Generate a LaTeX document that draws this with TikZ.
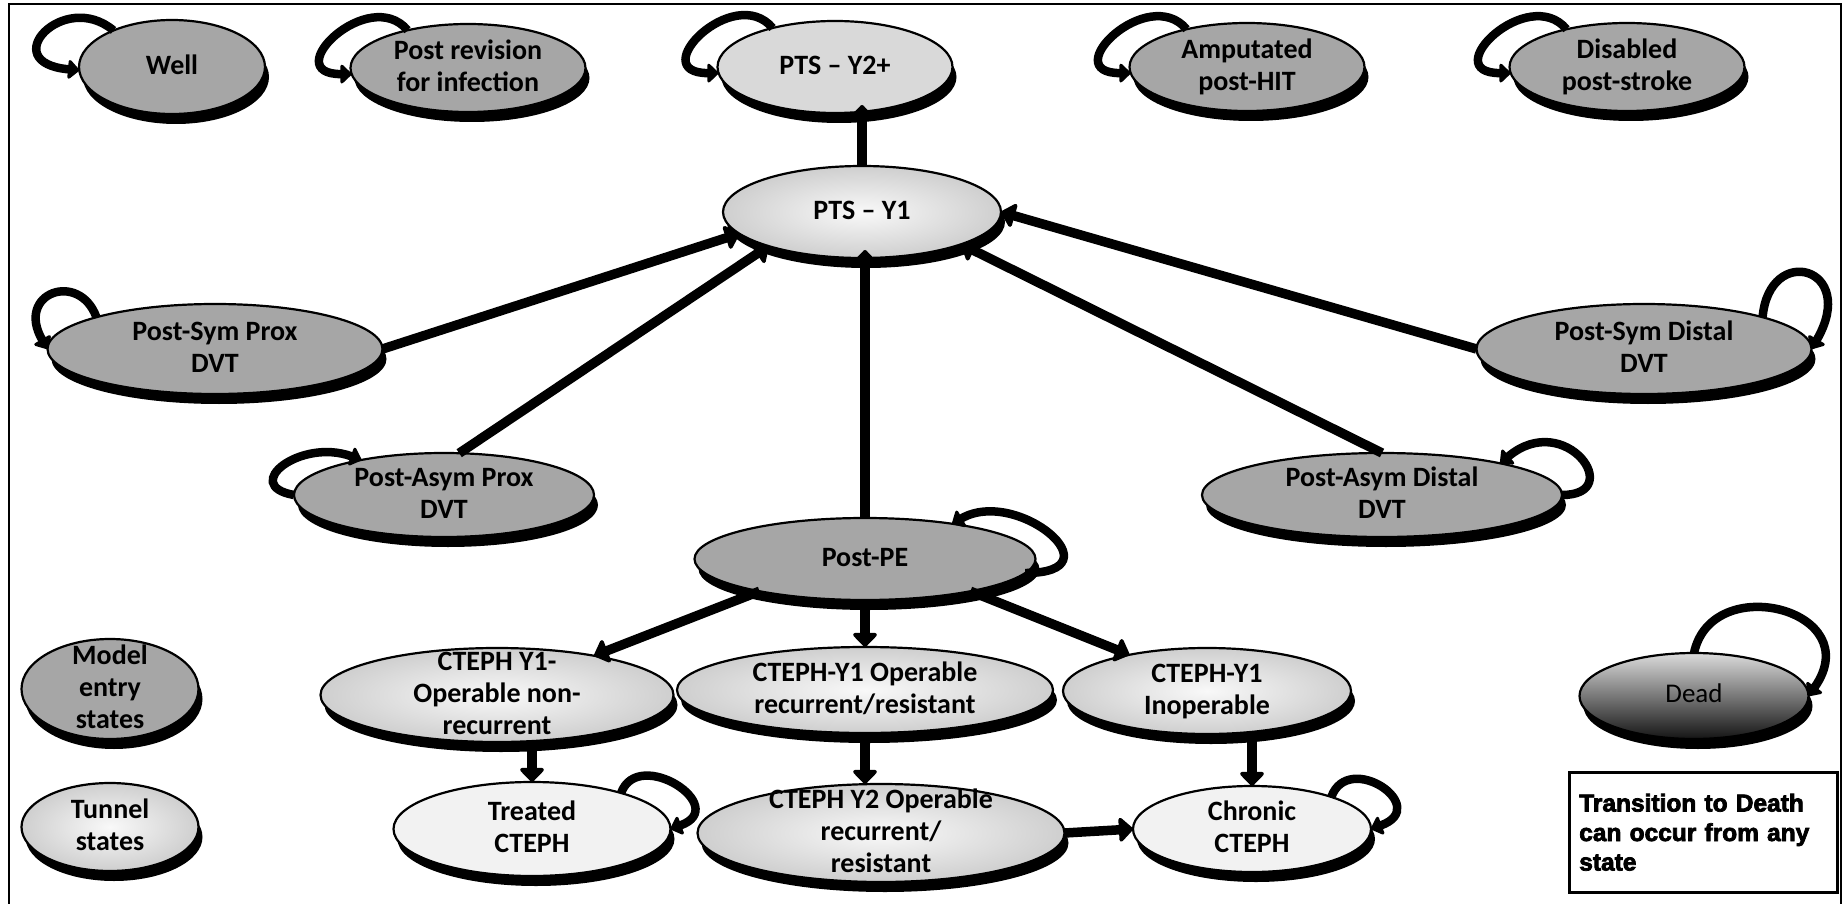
\documentclass[tikz,border=0pt]{standalone}
\usepackage{fontspec}
\setmainfont{Carlito}
\newfontfamily\notefont{Liberation Sans Bold}[FakeBold=3]
\usetikzlibrary{positioning}
\usetikzlibrary{shapes.geometric}
\usetikzlibrary{shadows}
\usetikzlibrary{arrows.meta}
\definecolor{entrygray}{RGB}{166,166,166}
\definecolor{palegray}{RGB}{217,217,217}
\definecolor{whitish}{RGB}{242,242,242}
% text of a state, kept out of the ellipse size
\newcommand{\st}[1]{\makebox[0pt]{\smash{\raisebox{-.25em}{\begin{tabular}{@{}c@{}}#1\end{tabular}}}}}
\tikzset{
    state/.style={ellipse, draw=black, line width=2.2pt, inner sep=0pt, outer sep=0pt,
        font=\fontsize{28}{32}\selectfont\bfseries,
        drop shadow={shadow xshift=4pt, shadow yshift=-10pt, opacity=1, fill=black}},
    dims/.style 2 args={minimum width=#1pt, minimum height=#2pt},
    entrystate/.style={state, fill=entrygray},
    tunnelstate/.style={state, inner color=gray!5, outer color=gray!38},
    palestate/.style={state, fill=whitish},
    flow/.style={line width=9.5pt, -{Triangle[width=28pt, length=15pt, round]}},
    selfloop/.style={line width=8.5pt, -{Triangle[width=22pt, length=12pt, round]}},
    notebox/.style={draw, line width=2.5pt, anchor=north west, align=left,
        text width=248pt, inner xsep=10pt, minimum height=120pt,
        font=\notefont\fontsize{24.5}{29.5}\selectfont},
}
\begin{document}
\begin{tikzpicture}[x=1pt, y=1pt]
    \useasboundingbox (0,0) rectangle (1845,-904);
    \draw[line width=2.5pt] (9,-904) -- (9,-4) -- (1841,-4) -- (1841,-904);

    % top row
    \node[entrystate, dims={186}{94}] (well) at (172,-67) {\st{Well}};
    \node[entrystate, dims={235}{88}] (postrev) at (468,-68) {\st{Post revision\\for infection}};
    \node[state, fill=palegray, dims={235}{92}] (ptsy2) at (835,-67) {\st{PTS -- Y2+}};
    \node[entrystate, dims={235}{88}] (amput) at (1247,-67) {\st{Amputated\\post-HIT}};
    \node[entrystate, dims={235}{88}] (disabled) at (1627,-67) {\st{Disabled\\post-stroke}};

    % PTS and DVT states
    \node[tunnelstate, dims={278}{92}] (ptsy1) at (862,-212) {\st{PTS -- Y1}};
    \node[entrystate, dims={335}{90}] (symprox) at (215,-349) {\st{Post-Sym Prox\\DVT}};
    \node[entrystate, dims={335}{90}] (symdist) at (1644,-349) {\st{Post-Sym Distal\\DVT}};
    \node[entrystate, dims={300}{84}] (asymprox) at (444,-495) {\st{Post-Asym Prox\\DVT}};
    \node[entrystate, dims={360}{84}] (asymdist) at (1382,-495) {\st{Post-Asym Distal\\DVT}};
    \node[entrystate, dims={341}{82}] (postpe) at (865,-559) {\st{Post-PE}};

    % CTEPH states
    \node[tunnelstate, dims={353}{94}] (ctnonrec) at (497,-695) {\st{CTEPH Y1-\\Operable non-\\recurrent}};
    \node[tunnelstate, dims={376}{86}] (ctrec) at (865,-690) {\st{CTEPH-Y1 Operable\\recurrent/resistant}};
    \node[tunnelstate, dims={288}{86}] (ctinop) at (1207,-691) {\st{CTEPH-Y1\\Inoperable}};
    \node[palestate, dims={277}{94}] (treated) at (532,-829) {\st{Treated\\CTEPH}};
    \node[tunnelstate, dims={367}{98}] (ctytwo) at (881,-833) {\st{CTEPH Y2 Operable\\recurrent/\\resistant}};
    \node[palestate, dims={238}{86}] (chronic) at (1252,-829) {\st{Chronic\\CTEPH}};

    % legend and death
    \node[entrystate, dims={177}{100}] (entry) at (110,-689) {\st{Model\\entry\\states}};
    \node[tunnelstate, dims={177}{88}] (tunnel) at (110,-827) {\st{Tunnel\\states}};
    \node[state, top color=gray!28, bottom color=black!92, dims={229}{86},
          font=\fontsize{27}{32}\selectfont, text=black] (dead) at (1694,-696) {\st{Dead}};
    \node[notebox] (note) at (1568,-771) {Transition to Death\\can occur from any\\state};

    % self loops
    \draw[selfloop] (well.148) .. controls +(140:65) and +(175:85) .. (well.182);
    \draw[selfloop] (postrev.148) .. controls +(130:60) and +(180:75) .. (postrev.183);
    \draw[selfloop] (ptsy2.148) .. controls +(130:60) and +(180:75) .. (ptsy2.183);
    \draw[selfloop] (amput.148) .. controls +(130:60) and +(180:75) .. (amput.183);
    \draw[selfloop] (disabled.148) .. controls +(130:60) and +(180:75) .. (disabled.183);
    \draw[selfloop] (symprox.165) .. controls +(110:50) and +(120:65) .. (symprox.west);
    \draw[selfloop] (asymprox.west) .. controls +(170:55) and +(160:65) .. (asymprox.157);
    \draw[selfloop] (symdist.15) .. controls +(85:75) and +(60:95) .. (symdist.east);
    \draw[selfloop] (asymdist.east) .. controls +(0:65) and +(40:85) .. (asymdist.15);
    \draw[selfloop] (postpe.355) .. controls +(0:95) and +(30:75) .. (postpe.22);
    \draw[selfloop] (treated.22) .. controls +(70:50) and +(20:65) .. (treated.east);
    \draw[selfloop] (chronic.22) .. controls +(70:50) and +(20:65) .. (chronic.east);
    \draw[selfloop] (dead.north) .. controls +(78:85) and +(55:105) .. (dead.east);

    % transitions
    \draw[flow, shorten >=-8pt] (ptsy1.north) -- (ptsy1.north |- ptsy2.south);
    \draw[flow, shorten >=-8pt] (postpe.north) -- (postpe.north |- ptsy1.south);
    \draw[flow] (symprox.east) -- (ptsy1.190);
    \draw[flow] (asymprox.70) -- (ptsy1.200);
    \draw[flow] (symdist.west) -- (ptsy1.east);
    \draw[flow] (asymdist.north) -- (ptsy1.342);
    \draw[flow] (postpe.197) -- (ctnonrec.22);
    \draw[flow] (postpe.south) -- (ctrec.north);
    \draw[flow] (postpe.343) -- (ctinop.155);
    \draw[flow] (ctnonrec.south -| treated.north) -- (treated.north);
    \draw[flow] (ctrec.south) -- (ctrec.south |- ctytwo.north);
    \draw[flow] (ctinop.south -| chronic.north) -- (chronic.north);
    \draw[flow] (ctytwo.east) -- (chronic.west);
\end{tikzpicture}
\end{document}
